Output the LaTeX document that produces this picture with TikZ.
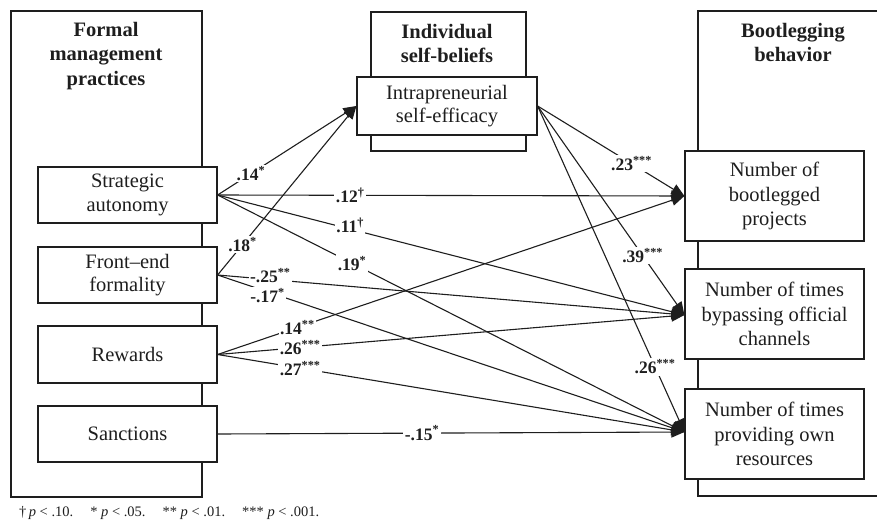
\documentclass[tikz,border=0pt]{standalone}
\usepackage{fontspec}
\setmainfont{Liberation Serif}
\usetikzlibrary{arrows.meta}
\definecolor{ink}{HTML}{1E1E1E}
\begin{document}
\begin{tikzpicture}[x=1pt,y=-1pt,
  grp/.style={draw=ink,line width=1.2pt},
  box/.style={draw=ink,line width=1.2pt,fill=white,minimum width=179pt,align=center,inner sep=0pt,text=ink,font=\fontsize{20.5}{23.5}\selectfont},
  ttl/.style={align=center,text=ink,font=\fontsize{20.5}{24.5}\selectfont\bfseries},
  arr/.style={draw=ink,line width=1.1pt,-{Triangle[length=13pt,width=11pt]}},
  lab/.style={fill=white,inner sep=1.5pt,text=ink,font=\fontsize{17.5}{19}\selectfont\bfseries},
]
\clip (0,0) rectangle (877,525);
% group frames
\draw[grp] (11,11) rectangle (202,497);
\draw[grp] (371,12) rectangle (526,151);
\draw[grp] (698,11) rectangle (895,496);
% titles
\node[ttl] (tl) at (106,56) {Formal\\management\\practices};
\node[ttl] (tm) at (447,43.5) {Individual\\self-beliefs};
\node[ttl] (tr) at (793,42.5) {Bootlegging\\behavior};
% left boxes
\node[box,minimum height=56pt] (sa) at (127.5,195) {Strategic\\autonomy};
\node[box,minimum height=56pt] (fe) at (127.5,275) {Front--end\\formality};
\node[box,minimum height=57pt] (rw) at (127.5,354.5) {Rewards};
\node[box,minimum height=56pt] (sn) at (127.5,434) {Sanctions};
% middle box
\node[box,minimum width=180pt,minimum height=58pt] (ise) at (447,106) {Intrapreneurial\\self-efficacy};
% right boxes
\node[box,minimum height=90pt,font=\fontsize{20.5}{24.5}\selectfont] (bp) at (774.5,196) {Number of\\bootlegged\\projects};
\node[box,minimum height=90pt,font=\fontsize{20.5}{24.5}\selectfont] (bo) at (774.5,314) {Number of times\\bypassing official\\channels};
\node[box,minimum height=90pt,font=\fontsize{20.5}{24.5}\selectfont] (pr) at (774.5,434) {Number of times\\providing own\\resources};
% coordinates for arrow tips
\coordinate (bpT) at (bp.west);
\coordinate (boT) at ([yshift=-1pt]bo.west);
\coordinate (prT) at ([yshift=2pt]pr.west);
% paths
\draw[arr] (sa.east) -- node[lab,pos=0.24]{.14\textsuperscript{*}} (ise.west);
\draw[arr] (fe.east) -- node[lab,pos=0.18]{.18\textsuperscript{*}} (ise.west);
\draw[arr] (sa.east) -- node[lab,pos=0.284]{.12\textsuperscript{†}} (bpT);
\draw[arr] (sa.east) -- node[lab,pos=0.284,yshift=4pt]{.11\textsuperscript{†}} (boT);
\draw[arr] (sa.east) -- node[lab,pos=0.288]{.19\textsuperscript{*}} (prT);
\draw[arr] (fe.east) -- node[lab,pos=0.113,yshift=4pt]{-.25\textsuperscript{**}} (boT);
\draw[arr] (fe.east) -- node[lab,pos=0.107,yshift=-4pt]{-.17\textsuperscript{*}} (prT);
\draw[arr] (rw.east) -- node[lab,pos=0.171]{.14\textsuperscript{**}} (bpT);
\draw[arr] (rw.east) -- node[lab,pos=0.177]{.26\textsuperscript{***}} (boT);
\draw[arr] (rw.east) -- node[lab,pos=0.177]{.27\textsuperscript{***}} (prT);
\draw[arr] (sn.east) -- node[lab,pos=0.438]{-.15\textsuperscript{*}} (prT);
\draw[arr] (ise.east) -- node[lab,pos=0.64]{.23\textsuperscript{***}} (bpT);
\draw[arr] (ise.east) -- node[lab,pos=0.716]{.39\textsuperscript{***}} (boT);
\draw[arr] (ise.east) -- node[lab,pos=0.8]{.26\textsuperscript{***}} (prT);
% footnote
\node[anchor=west,inner sep=0pt,text=ink,font=\fontsize{14.5}{16}\selectfont] (fn) at (19,513)
  {†\,\textit{p} < .10.\hspace{17pt}* \textit{p} < .05.\hspace{17pt}** \textit{p} < .01.\hspace{17pt}*** \textit{p} < .001.};
\end{tikzpicture}
\end{document}
